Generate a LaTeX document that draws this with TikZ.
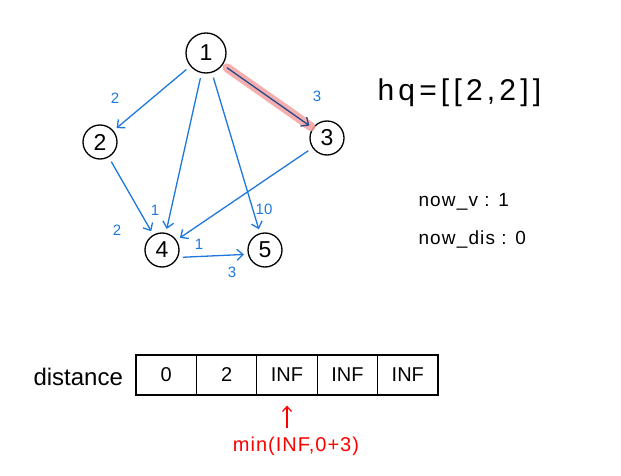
\documentclass[tikz,border=0pt]{standalone}
\usepackage{fontspec}
\setmainfont{Liberation Sans}
\usetikzlibrary{arrows.meta}
\definecolor{edgeblue}{RGB}{30,120,220}
\definecolor{hlpink}{RGB}{244,160,160}
\definecolor{darkedge}{RGB}{35,75,140}
\begin{document}
\begin{tikzpicture}[x=1pt,y=-1pt,
    vertex/.style={circle,draw,line width=1.3pt,inner sep=0pt,minimum size=34pt,font=\fontsize{23}{27}\selectfont},
    edge/.style={edgeblue,line width=1.3pt,-{Straight Barb[length=6pt,width=11pt]},shorten <=5pt,shorten >=4pt},
    weight/.style={edgeblue,font=\fontsize{15}{18}\selectfont},
    cell/.style={draw,line width=1.2pt,minimum width=60.4pt,minimum height=40pt,inner sep=0pt,font=\fontsize{20}{24}\selectfont},
    note/.style={font=\fontsize{19}{23}\selectfont\addfontfeature{LetterSpace=6},anchor=west}]
    \useasboundingbox (0,0) rectangle (621,476);
    % graph
    \node[vertex,minimum size=40pt] (V1) at (206,53) {1};
    \node[vertex] (V2) at (100,142) {2};
    \node[vertex] (V3) at (327,138) {3};
    \node[vertex] (V4) at (162,250) {4};
    \node[vertex] (V5) at (265,250) {5};
    \draw[hlpink,line width=9pt,line cap=round,opacity=0.85,shorten <=5pt,shorten >=2pt] (V1) -- (V3);
    \draw[edge,darkedge] (V1) -- (V3);
    \draw[edge] (V1) -- (V2);
    \draw[edge] (V1) -- (V4);
    \draw[edge] (V1) -- (V5);
    \draw[edge] (V2) -- (V4);
    \draw[edge] (V3) -- (V4);
    \draw[edge] (V4.-25) -- (V5.-166);
    \node[weight] (w12) at (115,98) {2};
    \node[weight] (w13) at (317,96) {3};
    \node[weight] (w14) at (155,210) {1};
    \node[weight] (w15) at (264,209) {10};
    \node[weight] (w24) at (117,230) {2};
    \node[weight] (w34) at (199,244) {1};
    \node[weight] (w45) at (232,272) {3};
    % state
    \node[note,font=\fontsize{30}{34}\selectfont\addfontfeature{LetterSpace=14}] (hq) at (374,93) {hq=[[2,2]]};
    \node[note] (nowv) at (415,202) {now\_v : 1};
    \node[note] (nowdis) at (415,240) {now\_dis : 0};
    % distance array
    \node[font=\fontsize{24}{28}\selectfont,anchor=west] (dist) at (30,377) {distance};
    \foreach \v [count=\i] in {0,2,INF,INF,INF}
      \node[cell] (D\i) at ({136+60.4*(\i-1)+30.2},375) {\v};
    \node[red,font=\fontsize{20}{24}\selectfont\addfontfeature{LetterSpace=5}] (upd) at (296,446) {min(INF,0+3)};
    \draw[red,line width=1.2pt,-{Straight Barb[length=5pt,width=9pt]},shorten <=5pt,shorten >=10pt] (upd.north -| D3.south) -- (D3.south);
\end{tikzpicture}
\end{document}
